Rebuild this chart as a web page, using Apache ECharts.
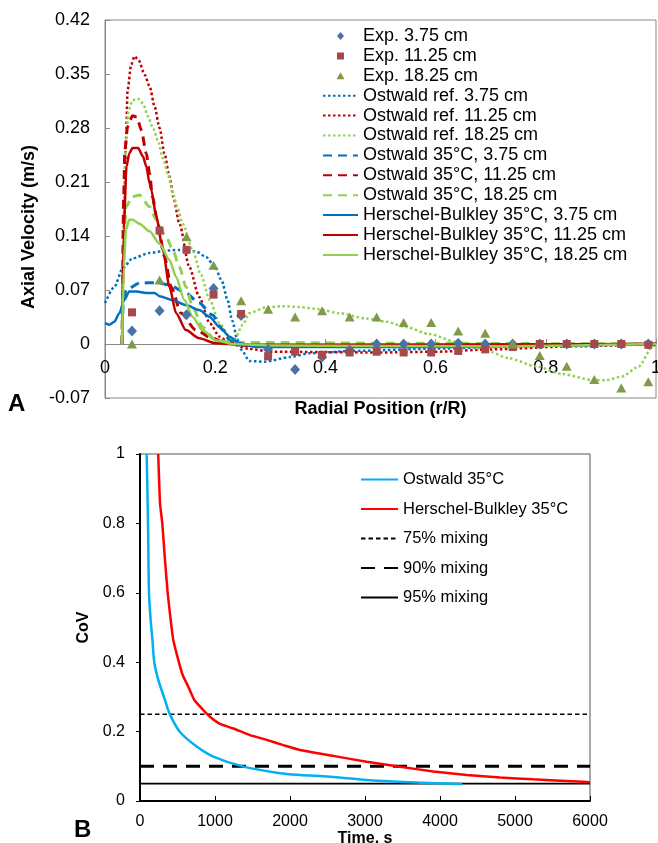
<!DOCTYPE html>
<html>
<head>
<meta charset="utf-8">
<title>Axial velocity profiles and CoV</title>
<script src="https://cdn.jsdelivr.net/npm/echarts@6.0.0/dist/echarts.min.js"></script>
<style>
  html, body { margin: 0; padding: 0; background: #fff; }
  #main { width: 658px; height: 843px; }
</style>
</head>
<body>
<div id="main"></div>
<script>
// ---------- Panel A : axial velocity vs radial position ----------
// experimental points (same radial stations for the three heights)
const radialPos = [0.049, 0.099, 0.148, 0.197, 0.247, 0.296, 0.345, 0.394, 0.444, 0.493,
                   0.542, 0.592, 0.641, 0.690, 0.740, 0.789, 0.838, 0.888, 0.937, 0.986];
const exp375  = [0.017, 0.043, 0.038, 0.072, 0.037, -0.007, -0.033, -0.017, -0.008, 0,
                 0, 0, 0.001, 0, 0, 0, 0, 0, 0, 0];
const exp1125 = [0.041, 0.147, 0.122, 0.064, 0.039, -0.016, -0.010, -0.014, -0.011, -0.010,
                 -0.011, -0.011, -0.009, -0.007, -0.004, 0, 0, 0, 0, -0.001];
const exp1825 = [0, 0.083, 0.139, 0.102, 0.056, 0.045, 0.035, 0.043, 0.035, 0.035,
                 0.028, 0.028, 0.017, 0.014, 0, -0.015, -0.029, -0.046, -0.057, -0.049];

// simulated profiles, [r/R, velocity]
const ostRef375 = [[0, 0.053], [0.017, 0.074], [0.032, 0.098], [0.05, 0.111], [0.081, 0.118],
  [0.111, 0.121], [0.135, 0.122], [0.165, 0.12], [0.183, 0.113], [0.199, 0.101], [0.212, 0.082],
  [0.222, 0.058], [0.231, 0.03], [0.24, 0.006], [0.248, -0.008], [0.262, -0.022], [0.29, -0.023],
  [0.335, -0.017], [0.371, -0.012], [0.45, -0.009], [0.6, -0.006], [0.75, -0.003], [0.9, -0.001], [1, 0]];
const ostRef1125 = [[0.031, 0], [0.033, 0.1], [0.036, 0.191], [0.038, 0.264], [0.041, 0.329],
  [0.0475, 0.362], [0.0535, 0.373], [0.061, 0.368], [0.072, 0.349], [0.081, 0.334], [0.09, 0.308],
  [0.099, 0.28], [0.108, 0.247], [0.117, 0.217], [0.124, 0.191], [0.135, 0.156], [0.153, 0.1],
  [0.171, 0.061], [0.19, 0.027], [0.208, 0.0095], [0.226, 0.001], [0.26, -0.006], [0.3, -0.01],
  [0.5, -0.011], [0.6, -0.01], [0.7, -0.007], [0.85, -0.003], [1, 0]];
const ostRef1825 = [[0.031, 0], [0.034, 0.15], [0.036, 0.241], [0.043, 0.303], [0.05, 0.316],
  [0.06, 0.318], [0.069, 0.312], [0.078, 0.295], [0.087, 0.28], [0.096, 0.264], [0.105, 0.241],
  [0.114, 0.221], [0.123, 0.195], [0.132, 0.176], [0.141, 0.156], [0.159, 0.122], [0.174, 0.09],
  [0.19, 0.057], [0.208, 0.027], [0.226, 0.009], [0.235, 0.006], [0.25, 0.025], [0.262, 0.04],
  [0.292, 0.0475], [0.322, 0.049], [0.353, 0.048], [0.389, 0.045], [0.425, 0.04], [0.474, 0.033],
  [0.51, 0.029], [0.546, 0.022], [0.588, 0.013], [0.637, 0.003], [0.691, -0.008], [0.733, -0.0185],
  [0.782, -0.029], [0.83, -0.039], [0.884, -0.0467], [0.909, -0.047], [0.939, -0.042],
  [0.969, -0.029], [0.993, -0.004], [1, 0]];
const ost35_375 = [[0.031, 0], [0.033, 0.056], [0.038, 0.07], [0.063, 0.079], [0.093, 0.0795],
  [0.117, 0.0765], [0.147, 0.066], [0.171, 0.053], [0.195, 0.0375], [0.214, 0.018], [0.226, 0.005],
  [0.24, -0.001], [0.3, -0.002], [0.6, -0.002], [1, 0]];
const ost35_1125 = [[0.031, 0], [0.034, 0.191], [0.036, 0.251], [0.041, 0.282], [0.05, 0.296],
  [0.058, 0.294], [0.066, 0.277], [0.075, 0.247], [0.081, 0.221], [0.086, 0.191], [0.096, 0.156],
  [0.108, 0.113], [0.12, 0.074], [0.138, 0.04], [0.165, 0.018], [0.195, 0.0074], [0.22, 0.001],
  [0.26, -0.002], [0.6, -0.002], [1, 0]];
const ost35_1825 = [[0.031, 0], [0.034, 0.12], [0.038, 0.178], [0.05, 0.191], [0.0625, 0.193],
  [0.081, 0.178], [0.093, 0.161], [0.111, 0.139], [0.123, 0.122], [0.135, 0.1], [0.147, 0.074],
  [0.159, 0.048], [0.177, 0.022], [0.2, 0.005], [0.23, 0.002], [0.3, 0.002], [0.5, 0.001], [1, 0]];
const hb375 = [[0, 0.027], [0.008, 0.025], [0.017, 0.029], [0.026, 0.04], [0.035, 0.057],
  [0.044, 0.068], [0.057, 0.068], [0.075, 0.066], [0.09, 0.066], [0.099, 0.062], [0.123, 0.057],
  [0.147, 0.0505], [0.171, 0.044], [0.19, 0.035], [0.208, 0.022], [0.226, 0.0095], [0.244, 0.001],
  [0.274, -0.004], [0.6, -0.004], [0.8, -0.002], [1, 0]];
const hb1125 = [[0.031, 0], [0.034, 0.15], [0.039, 0.23], [0.044, 0.247], [0.05, 0.254],
  [0.06, 0.254], [0.069, 0.243], [0.075, 0.23], [0.081, 0.208], [0.084, 0.2], [0.093, 0.165],
  [0.105, 0.122], [0.117, 0.074], [0.129, 0.04], [0.147, 0.018], [0.171, 0.0074], [0.2, 0.001],
  [0.25, -0.001], [1, 0]];
const hb1825 = [[0.031, 0], [0.034, 0.1], [0.038, 0.148], [0.044, 0.161], [0.05, 0.161],
  [0.0625, 0.156], [0.081, 0.146], [0.099, 0.13], [0.117, 0.109], [0.129, 0.087], [0.144, 0.057],
  [0.159, 0.035], [0.177, 0.018], [0.2, 0.005], [0.232, 0], [0.3, -0.002], [0.7, -0.003], [1, 0]];

// ---------- Panel B : CoV vs time ----------
const ostTime = [89, 107, 120, 142, 164, 191, 244, 333, 400, 533, 756, 978, 1378, 1867, 2133, 2533, 3022, 3689, 4297];
const ostCoV  = [1, 0.8, 0.6, 0.522, 0.469, 0.399, 0.349, 0.291, 0.249, 0.199, 0.157, 0.128, 0.099, 0.08, 0.075, 0.07, 0.0605, 0.053, 0.049];
const hbTime = [243, 267, 297, 333, 369, 409, 444, 511, 569, 644, 724, 844, 933, 1067, 1244, 1467, 1689, 1911, 2133, 2578, 3022, 3467, 3911, 4356, 4800, 5244, 5689, 6000];
const hbCoV  = [1, 0.858, 0.8, 0.695, 0.6, 0.522, 0.464, 0.406, 0.363, 0.329, 0.291, 0.262, 0.243, 0.222, 0.209, 0.19, 0.176, 0.161, 0.147, 0.13, 0.113, 0.099, 0.085, 0.075, 0.068, 0.0625, 0.0576, 0.054];
const mixNames  = ['75% mixing', '90% mixing', '95% mixing'];
const mixLevels = [0.25, 0.1, 0.05];
const timeRange = [0, 6000];

const FONT = 'Liberation Sans, Arial, Helvetica, sans-serif';
const BLUE = '#0070C0', RED = '#C00000', GREEN = '#92D050';
const DOT = [2.5, 2.5], DASH = [9, 6];

// legend marker shapes, padded to the full 35x9 icon box so they stay small and centred
const PAD = 'M0,0L0.01,0Z M35,9L34.99,9Z ';
const ICON_DIAMOND  = 'path://' + PAD + 'M17.5,0.5L21,4.5L17.5,8.5L14,4.5Z';
const ICON_SQUARE   = 'path://' + PAD + 'M14,1L21,1L21,8L14,8Z';
const ICON_TRIANGLE = 'path://' + PAD + 'M17.5,1L21.5,8L13.5,8Z';

function pairs(xs, ys) { return xs.map((x, i) => [x, ys[i]]); }

function expSeries(name, ys, symbol, size, color, icon) {
  return {
    name, type: 'scatter', xAxisIndex: 0, yAxisIndex: 0, z: 4,
    data: pairs(radialPos, ys), symbol, symbolSize: size, legendIconPath: icon,
    itemStyle: { color, opacity: 1 }
  };
}
function profile(name, data, color, dash, width) {
  return {
    name, type: 'line', xAxisIndex: 0, yAxisIndex: 0, z: 2,
    data, symbol: 'none', smooth: 0.25, smoothMonotone: 'x',
    itemStyle: { color },
    lineStyle: { color, width, type: dash, cap: 'butt' }
  };
}

const seriesA = [
  expSeries('Exp. 3.75 cm', exp375, 'diamond', [10, 11], '#4A72A8', ICON_DIAMOND),
  expSeries('Exp. 11.25 cm', exp1125, 'rect', 8, '#A5494A', ICON_SQUARE),
  expSeries('Exp. 18.25 cm', exp1825, 'triangle', [10, 9], '#7F9B48', ICON_TRIANGLE),
  profile('Ostwald ref. 3.75 cm', ostRef375, BLUE, DOT, 2.5),
  profile('Ostwald ref. 11.25 cm', ostRef1125, RED, DOT, 2.5),
  profile('Ostwald ref. 18.25 cm', ostRef1825, GREEN, DOT, 2.5),
  profile('Ostwald 35°C, 3.75 cm', ost35_375, BLUE, DASH, 3),
  profile('Ostwald 35°C, 11.25 cm', ost35_1125, RED, DASH, 3),
  profile('Ostwald 35°C, 18.25 cm', ost35_1825, GREEN, DASH, 3),
  profile('Herschel-Bulkley 35°C, 3.75 cm', hb375, BLUE, 'solid', 2.5),
  profile('Herschel-Bulkley 35°C, 11.25 cm', hb1125, RED, 'solid', 2.5),
  profile('Herschel-Bulkley 35°C, 18.25 cm', hb1825, GREEN, 'solid', 2.5)
];

const mixStyles = [
  { width: 1.7, type: [4.5, 3] },
  { width: 3, type: [14, 9] },
  { width: 1.7, type: 'solid' }
];
const seriesB = [
  {
    name: 'Ostwald 35°C', type: 'line', xAxisIndex: 1, yAxisIndex: 1,
    data: pairs(ostTime, ostCoV), symbol: 'none', smooth: 0.3,
    itemStyle: { color: '#00B0F0' }, lineStyle: { color: '#00B0F0', width: 2.5 }
  },
  {
    name: 'Herschel-Bulkley 35°C', type: 'line', xAxisIndex: 1, yAxisIndex: 1,
    data: pairs(hbTime, hbCoV), symbol: 'none', smooth: 0.15,
    itemStyle: { color: '#FF0000' }, lineStyle: { color: '#FF0000', width: 2.5 }
  }
].concat(mixNames.map((name, i) => ({
  name, type: 'line', xAxisIndex: 1, yAxisIndex: 1, z: 1,
  data: timeRange.map(t => [t, mixLevels[i]]), symbol: 'none',
  itemStyle: { color: '#000' },
  lineStyle: { color: '#000', width: mixStyles[i].width, type: mixStyles[i].type, cap: 'butt' }
})));

// legend entries: lines hide the default middle marker, scatter uses the padded shape
function legendItems(list) {
  return list.map(s => s.type === 'line'
    ? { name: s.name, itemStyle: { opacity: 0 } }
    : { name: s.name, icon: s.legendIconPath });
}
const trimNum = v => String(+v.toFixed(2));

// zero of the velocity axis sits 0.07/0.49 of the plot height above the bottom
const plotHA = 378;
const zeroOffsetA = -plotHA * 0.07 / 0.49;

const chart = echarts.init(document.getElementById('main'), null, { renderer: 'canvas' });
chart.setOption({
  animation: false,
  backgroundColor: '#fff',
  textStyle: { fontFamily: FONT, color: '#000' },
  grid: [
    { left: 105, top: 20, width: 551, height: plotHA, show: true, borderColor: '#898989', borderWidth: 1,
      outerBoundsMode: 'none', containLabel: false },
    { left: 140, top: 454, width: 450, height: 347, show: true, borderColor: '#555', borderWidth: 1,
      outerBoundsMode: 'none', containLabel: false }
  ],
  xAxis: [
    {
      gridIndex: 0, type: 'value', min: 0, max: 1, interval: 0.2, offset: zeroOffsetA,
      name: 'Radial Position (r/R)', nameLocation: 'middle', nameGap: 56,
      nameTextStyle: { fontSize: 18, fontWeight: 'bold', color: '#000', fontFamily: FONT },
      axisLine: { onZero: false, lineStyle: { color: '#898989', width: 1 } },
      axisTick: { inside: true, length: 5, lineStyle: { color: '#898989' } },
      axisLabel: { fontSize: 18, color: '#000', margin: 15, formatter: trimNum, fontFamily: FONT },
      splitLine: { show: false }
    },
    {
      gridIndex: 1, type: 'value', min: 0, max: 6000, interval: 1000,
      name: 'Time, s', nameLocation: 'middle', nameGap: 28,
      nameTextStyle: { fontSize: 16, fontWeight: 'bold', color: '#000', fontFamily: FONT },
      axisLine: { lineStyle: { color: '#000', width: 2 } },
      axisTick: { inside: true, length: 5, lineStyle: { color: '#000', width: 1 } },
      axisLabel: { fontSize: 16, color: '#000', margin: 13, formatter: v => String(v), fontFamily: FONT },
      splitLine: { show: false }
    }
  ],
  yAxis: [
    {
      gridIndex: 0, type: 'value', min: -0.07, max: 0.42, interval: 0.07,
      name: 'Axial Velocity (m/s)', nameLocation: 'middle', nameGap: 62,
      nameTextStyle: { fontSize: 18, fontWeight: 'bold', color: '#000', fontFamily: FONT,
        padding: [0, 36, 0, 0] },
      axisLine: { show: true, lineStyle: { color: '#898989', width: 1 } },
      axisTick: { show: true, inside: true, length: 5, lineStyle: { color: '#898989' } },
      axisLabel: { fontSize: 18, color: '#000', margin: 15, formatter: trimNum, fontFamily: FONT },
      splitLine: { show: false }
    },
    {
      gridIndex: 1, type: 'value', min: 0, max: 1, interval: 0.2,
      name: 'CoV', nameLocation: 'middle', nameGap: 45,
      nameTextStyle: { fontSize: 16, fontWeight: 'bold', color: '#000', fontFamily: FONT },
      axisLine: { show: true, lineStyle: { color: '#000', width: 2 } },
      axisTick: { show: true, length: 4, lineStyle: { color: '#000' } },
      axisLabel: { fontSize: 16, color: '#000', margin: 15, formatter: trimNum, fontFamily: FONT },
      splitLine: { show: false }
    }
  ],
  legend: [
    {
      data: legendItems(seriesA), orient: 'vertical', left: 317, top: 22,
      itemWidth: 35, itemHeight: 9, itemGap: 1.9, selectedMode: false,
      textStyle: { fontSize: 18, color: '#000', fontFamily: FONT }
    },
    {
      data: legendItems(seriesB), orient: 'vertical', left: 355, top: 466,
      itemWidth: 37, itemHeight: 8, itemGap: 12.5, selectedMode: false,
      textStyle: { fontSize: 16.5, color: '#000', fontFamily: FONT }
    }
  ],
  graphic: [
    { type: 'text', left: 8, top: 392, style: { text: 'A', font: 'bold 24px ' + FONT, fill: '#000' } },
    { type: 'text', left: 74, top: 818, style: { text: 'B', font: 'bold 24px ' + FONT, fill: '#000' } }
  ],
  series: seriesA.concat(seriesB)
});
</script>
</body>
</html>
